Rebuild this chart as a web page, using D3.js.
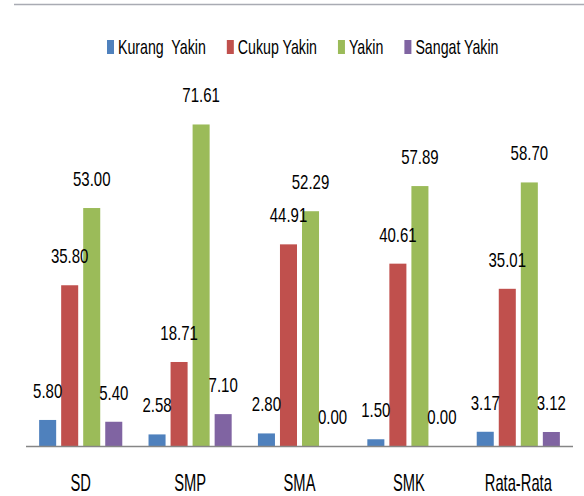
<!DOCTYPE html>
<html>
<head>
<meta charset="utf-8">
<script src="https://cdn.jsdelivr.net/npm/d3@7"></script>
<style>
  body { margin: 0; background: #fff; }
  svg text { font-family: "Liberation Sans", Arial, sans-serif; fill: #000; }
</style>
</head>
<body>
<div id="chart"></div>
<script>
var categories = ['SD', 'SMP', 'SMA', 'SMK', 'Rata-Rata'];
var seriesNames = ['Kurang  Yakin', 'Cukup Yakin', 'Yakin', 'Sangat Yakin'];
var seriesColors = ['#4F81BD', '#C0504D', '#9BBB59', '#8064A2'];

var kurangYakin = [5.80, 2.58, 2.80, 1.50, 3.17];
var cukupYakin = [35.80, 18.71, 44.91, 40.61, 35.01];
var yakin = [53.00, 71.61, 52.29, 57.89, 58.70];
var sangatYakin = [5.40, 7.10, 0.00, 0.00, 3.12];

var seriesValues = [kurangYakin, cukupYakin, yakin, sangatYakin];

var width = 584, height = 496;
var axisY = 446;

// the original font is a narrow one (Calibri-like), so squeeze text horizontally
var valueSqueeze = 0.75, legendSqueeze = 0.71, catSqueeze = 0.64;

var svg = d3.select('#chart').append('svg')
    .attr('width', width)
    .attr('height', height);

// thin border line on top
svg.append('line')
    .attr('x1', 14).attr('x2', width)
    .attr('y1', 4.5).attr('y2', 4.5)
    .attr('stroke', '#a9abb3')
    .attr('stroke-width', 1.5);

var x0 = d3.scaleBand()
    .domain(categories)
    .range([26, 573])
    .paddingInner(0.24)
    .paddingOuter(0.12);

var x1 = d3.scaleBand()
    .domain(d3.range(seriesNames.length))
    .range([0, x0.bandwidth()])
    .paddingInner(0.227);

var y = d3.scaleLinear()
    .domain([0, 80])
    .range([axisY, axisY - 80 * 4.49]);

var rows = [];
categories.forEach(function(c, i) {
    seriesValues.forEach(function(vals, s) {
        rows.push({cat: c, s: s, value: vals[i]});
    });
});

svg.selectAll('.bar')
    .data(rows)
    .enter()
    .append('rect')
    .attr('class', 'bar')
    .attr('x', d => x0(d.cat) + x1(d.s))
    .attr('y', d => y(d.value))
    .attr('width', x1.bandwidth())
    .attr('height', d => axisY - y(d.value))
    .attr('fill', d => seriesColors[d.s]);

svg.selectAll('.val')
    .data(rows)
    .enter()
    .append('text')
    .attr('class', 'val')
    .attr('transform', d => `translate(${x0(d.cat) + x1(d.s) + x1.bandwidth() / 2}, ${y(d.value) - 22}) scale(${valueSqueeze}, 1)`)
    .attr('text-anchor', 'middle')
    .style('font-size', '20px')
    .text(d => d.value.toFixed(2));

// x axis line
svg.append('line')
    .attr('x1', 26).attr('x2', 573)
    .attr('y1', axisY + 0.5).attr('y2', axisY + 0.5)
    .attr('stroke', '#868686')
    .attr('stroke-width', 1.5);

var xAxis = d3.axisBottom(x0).tickSize(0).tickPadding(0);
var gx = svg.append('g')
    .attr('transform', `translate(0, ${axisY})`)
    .call(xAxis);
gx.select('.domain').remove();
gx.selectAll('text')
    .attr('dy', 0)
    .attr('y', 0)
    .attr('transform', `translate(0, 45) scale(${catSqueeze}, 1)`)
    .style('font-size', '23px')
    .style('font-family', '"Liberation Sans", Arial, sans-serif')
    .attr('fill', '#000');

// legend
var legend = svg.append('g').attr('class', 'legend');
var lx = 107;
seriesNames.forEach(function(name, s) {
    var item = legend.append('g').attr('transform', `translate(${lx}, 0)`);
    item.append('rect')
        .attr('x', 0).attr('y', 40)
        .attr('width', 7).attr('height', 14)
        .attr('fill', seriesColors[s]);
    var t = item.append('text')
        .attr('transform', `translate(11, 54) scale(${legendSqueeze}, 1)`)
        .style('font-size', '20px')
        .style('white-space', 'pre')
        .text(name);
    lx += 11 + t.node().getComputedTextLength() * legendSqueeze + 21;
});
</script>
</body>
</html>
